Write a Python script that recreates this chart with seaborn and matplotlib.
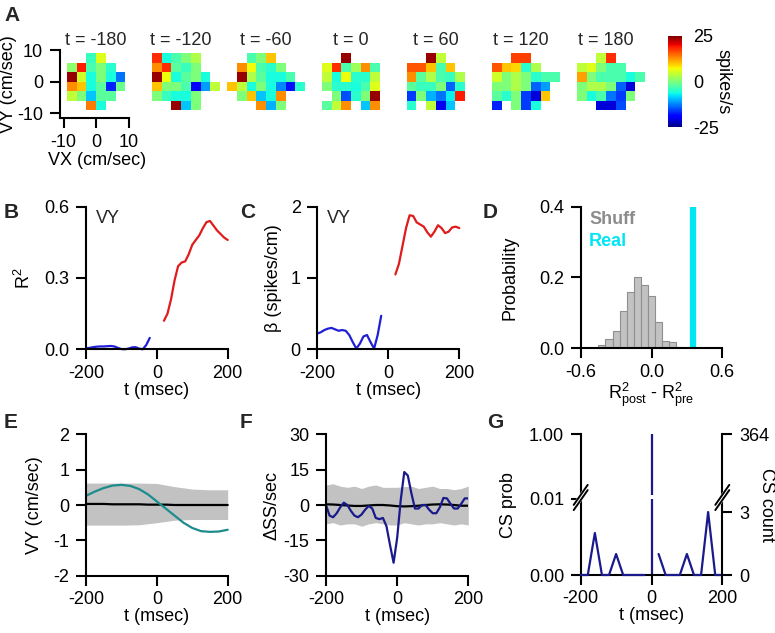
import numpy as np
import pandas as pd
import matplotlib
matplotlib.use("Agg")
import matplotlib.pyplot as plt
from matplotlib.lines import Line2D
import seaborn as sns

# ---------------- data ----------------
N = np.nan
vx_bins = [-10.5, -7.5, -4.5, -1.5, 1.5, 4.5, 7.5, 10.5]   # bin centres (cm/s)
vy_bins = [7.5, 4.5, 1.5, -1.5, -4.5, -7.5]
heat_times = ["-180", "-120", "-60", "0", "60", "120", "180"]

hm_m180 = [[N, N, N, -4, 6, N, N, N],
           [N, 1, 19, -3, 0, -5, N, N],
           [N, 24, 5, -6, 0, -6, -13, N],
           [N, 13, 10, -6, -2, -17, -1, N],
           [N, 4, 0, -9, -2, -2, N, N],
           [N, N, N, 14, -6, N, N, N]]
hm_m120 = [[N, 18, -6, -3, 0, 3, N, N],
           [N, 13, 18, -2, -4, 0, N, N],
           [N, 24, 7, -6, -2, 0, -6, N],
           [N, 10, 0, 0, -3, -19, -11, 4],
           [N, 0, -4, -6, -6, 0, N, N],
           [N, N, N, 24, -9, 0, N, N]]
hm_m60 = [[N, N, -3, 0, 10, N, N, N],
          [N, 13, 7, -3, -5, 0, N, N],
          [N, 24, 3, -2, -6, -6, -3, N],
          [10, 4, -6, 0, -6, -12, -18, -5],
          [N, 0, 10, -9, -6, 13, N, N],
          [N, N, N, 13, -10, 0, N, N]]
hm_0 = [[N, N, N, 24, N, N, N, N],
        [N, 6, 18, -3, 2, 13, -3, N],
        [N, 4, -6, 7, -5, -5, 4, N],
        [N, 0, -5, -5, -6, -3, 6, N],
        [N, N, 0, -15, -5, 0, 24, N],
        [N, -2, 4, 13, N, -9, 13, N]]
hm_60 = [[N, N, N, 24, 4, N, N, N],
         [N, 16, 16, 10, -3, 10, N, N],
         [N, 13, -2, 3, -3, -4, 3, N],
         [N, -2, -4, -4, 0, -14, -5, N],
         [N, -16, 0, -10, -13, -7, 19, N],
         [N, -5, N, 4, -20, -9, N, N]]
hm_120 = [[N, N, N, 17, 17, N, N, N],
          [N, 16, 10, 9, -5, 3, N, N],
          [N, 5, 0, 3, 0, -5, -3, -3],
          [N, 0, 0, 3, 0, -14, -11, N],
          [N, -2, -5, 0, -16, -21, 10, N],
          [N, -17, N, 0, -16, -6, N, N]]
hm_180 = [[N, N, N, 4, 18, N, N, N],
          [N, 4, 6, 0, -3, -3, N, N],
          [N, 12, 0, -3, -3, -3, -6, -3],
          [N, 0, 3, 3, 0, -14, -21, N],
          [N, 0, -6, -3, -13, -16, 0, N],
          [N, N, N, -21, -21, -15, N, N]]
heat_maps = [hm_m180, hm_m120, hm_m60, hm_0, hm_60, hm_120, hm_180]

# B: R^2
b_t_pre = [-200, -190, -180, -170, -160, -150, -140, -130, -120, -110, -100,
           -90, -80, -70, -60, -50, -40, -30, -20]
b_r2_pre = [0.004, 0.006, 0.009, 0.011, 0.012, 0.012, 0.013, 0.014, 0.012, 0.006,
            0.001, 0.0, 0.003, 0.008, 0.009, 0.003, 0.0, 0.018, 0.048]
b_t_post = [20, 30, 40, 50, 60, 70, 80, 90, 100, 110, 120, 130, 140, 150, 160,
            170, 180, 190, 200]
b_r2_post = [0.12, 0.15, 0.21, 0.29, 0.35, 0.365, 0.37, 0.40, 0.44, 0.46, 0.48,
             0.51, 0.535, 0.54, 0.52, 0.50, 0.485, 0.47, 0.46]

# C: beta
c_t_pre = b_t_pre
c_beta_pre = [0.22, 0.24, 0.27, 0.29, 0.30, 0.28, 0.26, 0.27, 0.26, 0.20, 0.10,
              0.01, 0.08, 0.18, 0.20, 0.10, 0.01, 0.20, 0.47]
c_t_post = b_t_post
c_beta_post = [1.05, 1.20, 1.45, 1.70, 1.88, 1.87, 1.78, 1.75, 1.72, 1.64, 1.58,
               1.65, 1.74, 1.70, 1.63, 1.65, 1.71, 1.72, 1.70]

# D: shuffle distribution
d_edges = [-0.45, -0.39, -0.33, -0.27, -0.21, -0.15, -0.09, -0.03, 0.03, 0.09,
           0.15, 0.21, 0.27]
d_centers = [-0.42, -0.36, -0.30, -0.24, -0.18, -0.12, -0.06, 0.0, 0.06, 0.12,
             0.18, 0.24]
d_probs = [0.008, 0.027, 0.05, 0.105, 0.16, 0.20, 0.178, 0.148, 0.074, 0.022,
           0.017, 0.004]
d_real = 0.355

# E: VY
e_t = [-200, -175, -150, -125, -100, -75, -50, -25, 0, 25, 50, 75, 100, 125,
       150, 175, 200]
e_vy = [0.26, 0.38, 0.48, 0.55, 0.57, 0.54, 0.45, 0.30, 0.10, -0.10, -0.30,
        -0.50, -0.65, -0.74, -0.76, -0.75, -0.70]
e_mean = [0.03, 0.03, 0.03, 0.02, 0.02, 0.02, 0.02, 0.01, 0.01, 0.01, 0.0, 0.0,
          0.0, 0.0, 0.0, 0.0, 0.0]
e_band_t = [-200, -150, -100, -50, 0, 50, 100, 150, 200]
e_band_hi = [0.62, 0.62, 0.62, 0.62, 0.61, 0.52, 0.45, 0.43, 0.43]
e_band_lo = [-0.57, -0.57, -0.57, -0.56, -0.50, -0.43, -0.41, -0.41, -0.41]

# F: delta SS
f_t = list(range(-200, 201, 10))
f_ss = [0, -4.5, -5.2, -3.5, -1, 1, 0, -2.5, -4.5, -5.2, -4, -2, -0.4, -1.5,
        -5.5, -6, -5.5, -9, -17, -24.5, -14, 2, 14, 12.5, 5, -1.5, -1.5, 0, 0,
        -2, -3.5, -3.5, -1, 3, 2.8, 0.5, -1.5, -1.5, 0.5, 2.8, 2.8]
f_band_t = list(range(-200, 201, 20))
f_band_hi = [8.5, 9, 8, 7.5, 8, 7, 8, 8.5, 7.5, 7.5, 7.5, 7.8, 8, 7, 7.5, 8, 7,
             7, 6.5, 7, 8]
f_band_lo = [-8, -7.5, -8.5, -8, -8, -9, -8, -7.5, -8, -8.5, -8.5, -7.5, -8,
             -8.5, -8, -8, -7.5, -8, -8.5, -8, -8.5]
f_mean = [0.3, 0.2, 0, -0.2, -0.4, -0.4, -0.2, 0, 0, -0.2, -0.5, -0.6, -0.5,
          -0.3, 0, 0.2, 0.3, 0.2, 0, -0.3, -0.3]

# G: complex spikes
g_t = [-200, -180, -160, -140, -120, -100, -80, -60, -40, -20, 0, 20, 40, 60,
       80, 100, 120, 140, 160, 180, 200]
g_count = [0, 0, 2, 0, 0, 1, 0, 0, 0, 0, 364, 1, 0, 0, 0, 1, 0, 0, 3, 0, 0]
g_total = 364

# ---------------- style ----------------
sns.set_style("ticks")
plt.rcParams.update({
    "font.family": ["Liberation Sans", "DejaVu Sans"],
    "font.size": 13,
    "axes.linewidth": 1.5,
    "axes.edgecolor": "black",
    "axes.labelcolor": "black",
    "xtick.color": "black", "ytick.color": "black",
    "xtick.major.size": 7, "ytick.major.size": 7,
    "xtick.major.width": 1.5, "ytick.major.width": 1.5,
    "xtick.major.pad": 4, "ytick.major.pad": 5,
    "xtick.labelsize": 13, "ytick.labelsize": 13,
    "axes.labelsize": 13,
    "axes.unicode_minus": False,
    "mathtext.fontset": "custom",
    "mathtext.rm": "Liberation Sans",
    "mathtext.it": "Liberation Sans:italic",
    "mathtext.bf": "Liberation Sans:bold",
})

W, H = 775, 633
fig = plt.figure(figsize=(W / 100, H / 100), dpi=100)


def add_ax(left, top, right, bottom):
    return fig.add_axes([left / W, 1 - bottom / H, (right - left) / W, (bottom - top) / H])


def style(ax):
    sns.despine(ax=ax)
    for s in ax.spines.values():
        s.set_linewidth(1.5)


BLUE = "#1f1fd6"
RED = "#e01b1b"
NAVY = "#1a1a8c"
TEAL = "#1c8c8c"
GRAY = "#c2c2c2"

# ---------------- A: heatmaps ----------------
SX, SY = 3.25, 3.17
Y0 = 81.7
x_edge0 = vx_bins[0] - (vx_bins[1] - vx_bins[0]) / 2
y_edge0 = vy_bins[0] + (vy_bins[0] - vy_bins[1]) / 2
step = vx_bins[1] - vx_bins[0]


def u(x):
    return (x - x_edge0) / step


def v(y):
    return (y_edge0 - y) / step


cax = add_ax(668, 36, 682, 127.3)
for i, mat in enumerate(heat_maps):
    x0 = 96 + 85 * i
    xlo = -11.2 if i == 0 else -12
    xhi, ytop, ybot = 12, 10.3, -11.6
    ax = add_ax(x0 + xlo * SX, Y0 - ytop * SY, x0 + xhi * SX, Y0 - ybot * SY)
    df = pd.DataFrame(mat, index=vy_bins, columns=vx_bins)
    sns.heatmap(df, ax=ax, cmap="jet", vmin=-25, vmax=25,
                cbar=(i == 0), cbar_ax=(cax if i == 0 else None),
                cbar_kws={"ticks": [-25, 0, 25]},
                xticklabels=False, yticklabels=False)
    ax.set_xlim(u(xlo), u(xhi))
    ax.set_ylim(v(ybot), v(ytop))
    ax.set_xlabel("")
    ax.set_ylabel("")
    fig.text(x0 / W, 1 - 45 / H, f"t = {heat_times[i]}", ha="center", va="baseline",
             fontsize=13)
    if i == 0:
        ax.spines["left"].set_visible(True)
        ax.spines["bottom"].set_visible(True)
        for s in ("left", "bottom"):
            ax.spines[s].set_linewidth(1.5)
            ax.spines[s].set_color("black")
        ax.spines["left"].set_bounds(v(ybot), v(10))
        ax.spines["bottom"].set_bounds(u(xlo), u(10))
        ax.set_xticks([u(-10), u(0), u(10)], ["-10", "0", "10"], rotation=0)
        ax.set_yticks([v(10), v(0), v(-10)], ["10", "0", "-10"], rotation=0)
        ax.tick_params(length=7, width=1.5, bottom=True, left=True)
        ax.set_xlabel("VX (cm/sec)", labelpad=1)
        ax.set_ylabel("VY (cm/sec)")
        ax.yaxis.set_label_coords(-0.56, 0.5)

cax.tick_params(length=0, pad=8, labelsize=13)
cax.set_ylabel("spikes/s", rotation=270, va="bottom", fontsize=13)
cax.yaxis.set_label_coords(3.3, 0.5)

# ---------------- B ----------------
axB = add_ax(86, 206.7, 227.7, 349.3)
sns.lineplot(x=b_t_pre, y=b_r2_pre, color=BLUE, lw=1.6, ax=axB, clip_on=False)
sns.lineplot(x=b_t_post, y=b_r2_post, color=RED, lw=1.6, ax=axB, clip_on=False)
axB.set_xlim(-200, 200)
axB.set_ylim(0, 0.6)
axB.set_xticks([-200, 0, 200], ["-200", "0", "200"])
axB.set_yticks([0, 0.3, 0.6], ["0.0", "0.3", "0.6"])
axB.set_xlabel("t (msec)", labelpad=0)
axB.set_ylabel("R$^2$")
axB.yaxis.set_label_coords(-0.37, 0.5)
axB.text(-172, 0.585, "VY", ha="left", va="top", fontsize=13)
style(axB)

# ---------------- C ----------------
axC = add_ax(317.3, 206.7, 459.3, 349.3)
sns.lineplot(x=c_t_pre, y=c_beta_pre, color=BLUE, lw=1.6, ax=axC, clip_on=False)
sns.lineplot(x=c_t_post, y=c_beta_post, color=RED, lw=1.6, ax=axC, clip_on=False)
axC.set_xlim(-200, 200)
axC.set_ylim(0, 2)
axC.set_xticks([-200, 0, 200], ["-200", "0", "200"])
axC.set_yticks([0, 1, 2], ["0", "1", "2"])
axC.set_xlabel("t (msec)", labelpad=0)
axC.set_ylabel("β (spikes/cm)")
axC.yaxis.set_label_coords(-0.25, 0.5)
axC.text(-174, 1.95, "VY", ha="left", va="top", fontsize=13)
style(axC)

# ---------------- D ----------------
axD = add_ax(580.7, 206.7, 722.3, 348.3)
sns.histplot(x=d_centers, weights=d_probs, bins=d_edges, stat="count",
             color=GRAY, edgecolor="#8f8f8f", linewidth=0.8, alpha=1, ax=axD)
axD.plot([d_real, d_real], [0, 0.4], color="#00e6f2", lw=4.5, solid_capstyle="butt")
axD.set_xlim(-0.6, 0.6)
axD.set_ylim(0, 0.4)
axD.set_xticks([-0.6, 0, 0.6], ["-0.6", "0.0", "0.6"])
axD.set_yticks([0, 0.2, 0.4], ["0.0", "0.2", "0.4"])
axD.set_xlabel(r"R$^2_{\mathrm{post}}$ - R$^2_{\mathrm{pre}}$", labelpad=0)
axD.set_ylabel("Probability")
axD.yaxis.set_label_coords(-0.44, 0.5)
axD.text(-0.53, 0.387, "Shuff", color="#8c8c8c", weight="bold", ha="left", va="top", fontsize=13)
axD.text(-0.53, 0.326, "Real", color="#00e6f2", weight="bold", ha="left", va="top", fontsize=13)
style(axD)

# ---------------- E ----------------
axE = add_ax(86, 434.3, 227.7, 575.7)
axE.fill_between(e_band_t, e_band_lo, e_band_hi, color=GRAY, lw=0)
sns.lineplot(x=e_t, y=e_mean, color="black", lw=1.6, ax=axE, clip_on=False)
sns.lineplot(x=e_t, y=e_vy, color=TEAL, lw=1.6, ax=axE, clip_on=False)
axE.set_xlim(-200, 200)
axE.set_ylim(-2, 2)
axE.set_xticks([-200, 0, 200], ["-200", "0", "200"])
axE.set_yticks([-2, -1, 0, 1, 2], ["-2", "-1", "0", "1", "2"])
axE.set_xlabel("t (msec)", labelpad=0)
axE.set_ylabel("VY (cm/sec)")
axE.yaxis.set_label_coords(-0.30, 0.5)
style(axE)

# ---------------- F ----------------
axF = add_ax(326, 434.3, 468.3, 575.7)
axF.fill_between(f_band_t, f_band_lo, f_band_hi, color=GRAY, lw=0)
sns.lineplot(x=f_band_t, y=f_mean, color="black", lw=1.6, ax=axF)
sns.lineplot(x=f_t, y=f_ss, color=NAVY, lw=1.6, ax=axF)
axF.set_xlim(-200, 200)
axF.set_ylim(-30, 30)
axF.set_xticks([-200, 0, 200], ["-200", "0", "200"])
axF.set_yticks([-30, -15, 0, 15, 30], ["-30", "-15", "0", "15", "30"])
axF.set_xlabel("t (msec)", labelpad=0)
axF.set_ylabel("ΔSS/sec")
axF.yaxis.set_label_coords(-0.32, 0.5)
style(axF)

# ---------------- G ----------------
LOW = 0.543
PBRK = 0.01


def fwd(p):
    p = np.asarray(p, dtype=float)
    return np.where(p <= PBRK, p / PBRK * LOW, LOW + (p - PBRK) / (1 - PBRK) * (1 - LOW))


def inv(d):
    d = np.asarray(d, dtype=float)
    return np.where(d <= LOW, d / LOW * PBRK, PBRK + (d - LOW) / (1 - LOW) * (1 - PBRK))


axG = add_ax(580.7, 434.3, 722.3, 575)
axG.set_yscale("function", functions=(fwd, inv))
g_df = pd.DataFrame({"t": g_t, "p": [c / g_total for c in g_count]})
pre = g_df[g_df.t < 0]
post = g_df[g_df.t > 0]
zero = g_df[g_df.t == 0]
sns.lineplot(data=pre, x="t", y="p", color=NAVY, lw=1.6, ax=axG, clip_on=False, zorder=3)
sns.lineplot(data=post, x="t", y="p", color=NAVY, lw=1.6, ax=axG, clip_on=False, zorder=3)
tz = float(zero.t.iloc[0])
pz = float(zero.p.iloc[0])
axG.vlines([tz, tz], [0, float(inv(0.572))], [float(inv(0.537)), pz], color=NAVY, lw=1.6)
axG.set_xlim(-200, 200)
axG.set_ylim(0, 1)
axG.set_xticks([-200, 0, 200], ["-200", "0", "200"])
axG.set_yticks([0, 0.01, 1], ["0.00", "0.01", "1.00"])
axG.minorticks_off()
axG.set_xlabel("t (msec)", labelpad=0)
axG.set_ylabel("CS prob")
axG.yaxis.set_label_coords(-0.45, 0.5)
style(axG)
axG2 = axG.twinx()
axG2.set_yscale("function", functions=(lambda c: fwd(np.asarray(c) / g_total),
                                       lambda d: inv(d) * g_total))
axG2.set_ylim(0, g_total)
axG2.set_yticks([0, 3, g_total], ["0", "3", str(g_total)])
axG2.minorticks_off()
for s in ("top", "left", "bottom"):
    axG2.spines[s].set_visible(False)
axG2.spines["right"].set_linewidth(1.5)
axG2.set_ylabel("CS count", rotation=270, va="bottom")
axG2.yaxis.set_label_coords(1.25, 0.5)


def break_mark(xpx, ypx):
    dx, dy, g = 7, 10, 2.6
    fig.add_artist(Line2D([(xpx - dx) / W, (xpx + dx) / W],
                          [1 - (ypx + dy) / H, 1 - (ypx - dy) / H],
                          color="white", lw=4, transform=fig.transFigure, zorder=20))
    for off in (-g, g):
        fig.add_artist(Line2D([(xpx - dx) / W, (xpx + dx) / W],
                              [1 - (ypx + dy + off) / H, 1 - (ypx - dy + off) / H],
                              color="black", lw=1.4, transform=fig.transFigure, zorder=21))


break_mark(580.7, 497.5)
break_mark(722.3, 497.5)

# ---------------- panel letters ----------------
for lab, x, y in [("A", 4, 6), ("B", 4, 203), ("C", 240, 203), ("D", 483, 203),
                  ("E", 4, 413), ("F", 240, 413), ("G", 487, 413)]:
    fig.text(x / W, 1 - y / H, lab, ha="left", va="top", fontsize=15, weight="bold")

fig.savefig("out.png", dpi=100)
